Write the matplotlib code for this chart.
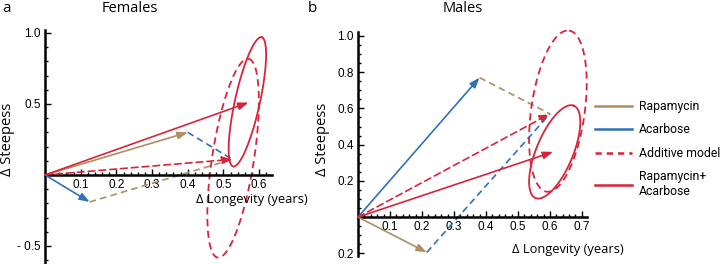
import numpy as np
import matplotlib

matplotlib.use("Agg")
import matplotlib.pyplot as plt
from matplotlib.lines import Line2D
from matplotlib.ticker import MultipleLocator, FixedLocator, FixedFormatter

# colours
TAN = "#B08D62"
BLUE = "#2F72B8"
RED = "#D8243A"

# ---- panel a: females (delta longevity, delta steepness) ----
a_rapa = (0.40, 0.30)
a_acar = (0.125, -0.19)
a_add = (0.525, 0.11)
a_combo = (0.570, 0.51)
# ellipses: centre, major half-axis vector, minor half-axis vector
a_add_ell = ((0.527, 0.118), (0.043, 0.70), (0.058, -0.02))
a_combo_ell = ((0.567, 0.515), (0.040, 0.455), (0.034, -0.02))
a_xticks = [0.1, 0.2, 0.3, 0.4, 0.5, 0.6]
a_yticks = [-0.5, 0.5, 1.0]
a_ylabels = ["- 0.5", "0.5", "1.0"]

# ---- panel b: males ----
b_rapa = (0.215, -0.195)
b_acar = (0.38, 0.77)
b_add = (0.60, 0.57)
b_combo = (0.61, 0.36)
b_add_ell = ((0.625, 0.585), (0.035, 0.445), (0.083, -0.02))
b_combo_ell = ((0.615, 0.36), (0.060, 0.255), (0.053, -0.039))
b_xticks = [0.1, 0.2, 0.3, 0.4, 0.5, 0.6, 0.7]
b_yticks = [-0.2, 0.2, 0.4, 0.6, 0.8, 1.0]
b_ylabels = ["0.2", "0.2", "0.4", "0.6", "0.8", "1.0"]

LABEL_FONT = ["Open Sans", "DejaVu Sans"]
LEGEND_FONT = ["Roboto", "DejaVu Sans"]
TICK_FONT = ["Liberation Sans", "DejaVu Sans"]

W, H = 722, 264
fig = plt.figure(figsize=(W / 100, H / 100), dpi=100)


def px_axes(left, top, right, bottom):
    return fig.add_axes([left / W, 1 - bottom / H, (right - left) / W, (bottom - top) / H])


def arrow(ax, start, end, color, ls="-"):
    ax.annotate(
        "", xy=end, xytext=start,
        arrowprops=dict(arrowstyle="-|>,head_length=0.6,head_width=0.22", color=color,
                        lw=1.2, linestyle=ls, shrinkA=0, shrinkB=0, mutation_scale=10),
        annotation_clip=False,
    )


def ellipse(ax, ell, color, ls="-"):
    (cx, cy), (mx, my), (nx, ny) = ell
    t = np.linspace(0, 2 * np.pi, 200)
    x = cx + mx * np.cos(t) + nx * np.sin(t)
    y = cy + my * np.cos(t) + ny * np.sin(t)
    if ls == "-":
        ax.plot(x, y, color=color, lw=1.3, clip_on=False)
    else:
        ax.plot(x, y, color=color, lw=1.3, ls=(0, (4, 2.5)), clip_on=False)


def style_axes(ax, xticks, yticks, ylabels, xminor, yminor):
    for s in ["top", "right"]:
        ax.spines[s].set_visible(False)
    ax.spines["left"].set_position(("data", 0))
    ax.spines["bottom"].set_position(("data", 0))
    ax.spines["left"].set_linewidth(1.8)
    ax.spines["bottom"].set_linewidth(1.8)
    ax.xaxis.set_major_locator(FixedLocator(xticks))
    ax.xaxis.set_major_formatter(FixedFormatter([f"{v:.1f}" for v in xticks]))
    ax.yaxis.set_major_locator(FixedLocator(yticks))
    ax.yaxis.set_major_formatter(FixedFormatter(ylabels))
    ax.xaxis.set_minor_locator(MultipleLocator(xminor))
    ax.yaxis.set_minor_locator(MultipleLocator(yminor))
    ax.tick_params(which="both", direction="in", width=1.0, labelsize=8.5, pad=3)
    ax.tick_params(which="major", length=4)
    ax.tick_params(which="minor", length=2)
    for lab in ax.get_xticklabels() + ax.get_yticklabels():
        lab.set_family(TICK_FONT)
    ax.patch.set_alpha(0)


def draw_panel(ax, rapa, acar, add, combo, add_ell, combo_ell):
    o = (0, 0)
    arrow(ax, o, rapa, TAN)
    arrow(ax, o, acar, BLUE)
    ax.plot([acar[0], add[0]], [acar[1], add[1]], color=TAN, lw=1.2, ls=(0, (4, 2.5)))
    ax.plot([rapa[0], add[0]], [rapa[1], add[1]], color=BLUE, lw=1.2, ls=(0, (4, 2.5)))
    arrow(ax, o, add, RED, ls=(0, (4, 2.5)))
    arrow(ax, o, combo, RED)
    ellipse(ax, add_ell, RED, ls="--")
    ellipse(ax, combo_ell, RED)


# panel a: origin at px (45,175), 357 px per x unit, 142 px per y unit
ax1 = px_axes(45, 30, 272, 264)
ax1.set_xlim(0, 0.636)
ax1.set_ylim(-0.627, 1.021)
draw_panel(ax1, a_rapa, a_acar, a_add, a_combo, a_add_ell, a_combo_ell)
style_axes(ax1, a_xticks, a_yticks, a_ylabels, 0.02, 0.1)

# panel b: origin at px (358,217), 320 px per x unit, 181 px per y unit
ax2 = px_axes(358, 32, 587, 256)
ax2.set_xlim(0, 0.716)
ax2.set_ylim(-0.215, 1.022)
draw_panel(ax2, b_rapa, b_acar, b_add, b_combo, b_add_ell, b_combo_ell)
style_axes(ax2, b_xticks, b_yticks, b_ylabels, 0.02, 0.05)


def ftext(x, y, s, **kw):
    fig.text(x / W, 1 - y / H, s, family=LABEL_FONT, **kw)


ftext(2, 9, "a", fontsize=11, ha="left", va="center")
ftext(130, 9, "Females", fontsize=10.5, ha="center", va="center")
ftext(308, 9, "b", fontsize=11, ha="left", va="center")
ftext(463, 9, "Males", fontsize=10.5, ha="center", va="center")
ftext(252, 200, "\u0394 Longevity (years)", fontsize=9.3, ha="center", va="center")
ftext(568, 249, "\u0394 Longevity (years)", fontsize=9.3, ha="center", va="center")
ftext(8, 139, "\u0394 Steepess", fontsize=10.5, ha="center", va="center", rotation=90)
ftext(323, 139, "\u0394 Steepess", fontsize=10.5, ha="center", va="center", rotation=90)

handles = [
    Line2D([], [], color=TAN, lw=1.8),
    Line2D([], [], color=BLUE, lw=1.8),
    Line2D([], [], color=RED, lw=1.8, ls=(0, (2.5, 2))),
    Line2D([], [], color=RED, lw=1.8),
]
labels = ["Rapamycin", "Acarbose", "Additive model", "Rapamycin+\nAcarbose"]
leg = fig.legend(handles, labels, loc="upper left", bbox_to_anchor=(595 / W, 1 - 100 / H),
                 frameon=False, prop={"family": LEGEND_FONT, "size": 8.8},
                 handlelength=3.0, handletextpad=0.6,
                 labelspacing=0.85, borderaxespad=0, borderpad=0)

fig.savefig("out.png", dpi=100)
